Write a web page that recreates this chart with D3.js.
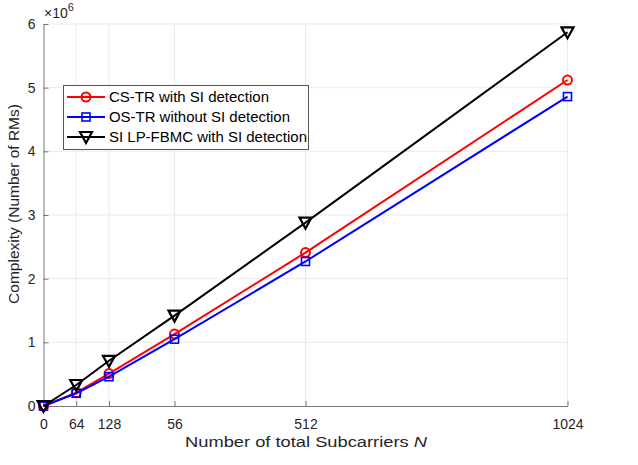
<!DOCTYPE html>
<html><head><meta charset="utf-8">
<script src="https://cdn.jsdelivr.net/npm/d3@7"></script>
<style>body{margin:0;background:#fff}text{font-family:"Liberation Sans",Arial,sans-serif}</style>
</head><body><svg id="c" width="638" height="465"></svg>
<script>
const xValues = [0, 64, 128, 256, 512, 1024];
const xTickLabels = ["0", "64", "128", "56", "512", "1024"];
const yTicks = [0, 1, 2, 3, 4, 5, 6];
const csTR = [0, 0.21, 0.51, 1.13, 2.41, 5.12];
const osTR = [0, 0.20, 0.46, 1.05, 2.27, 4.86];
const siLP = [0, 0.33, 0.71, 1.42, 2.88, 5.87];
const seriesNames = ["CS-TR with SI detection", "OS-TR without SI detection", "SI LP-FBMC with SI detection"];
const seriesColors = ["#ff0000", "#0000ff", "#000000"];
const seriesMarkers = ["circle", "square", "triangle"];
const seriesData = [csTR, osTR, siLP];
const legendTextLengths = [160, 181, 198];

const svg = d3.select("#c");
const x = d3.scaleLinear().domain([0, 1024]).range([43.5, 567.5]);
const y = d3.scaleLinear().domain([0, 6]).range([406, 24]);

// grid
svg.append("g").selectAll("line").data(xValues.slice(1)).join("line")
  .attr("x1", d => x(d)).attr("x2", d => x(d)).attr("y1", y(0)).attr("y2", y(6))
  .attr("stroke", "#ebebeb").attr("stroke-width", 1);
svg.append("g").selectAll("line").data(yTicks.slice(1)).join("line")
  .attr("x1", x(0)).attr("x2", x(1024)).attr("y1", d => y(d)).attr("y2", d => y(d))
  .attr("stroke", "#ebebeb").attr("stroke-width", 1);

// axes
const xAxis = d3.axisBottom(x).tickValues(xValues).tickFormat((d, i) => xTickLabels[i]).tickSizeInner(-5).tickSizeOuter(0).tickPadding(13);
const gx = svg.append("g").attr("transform", `translate(0,${y(0)})`).call(xAxis);
const yAxis = d3.axisLeft(y).tickValues(yTicks).tickFormat(d3.format("d")).tickSizeInner(-5).tickSizeOuter(0).tickPadding(8);
const gy = svg.append("g").attr("transform", `translate(${x(0)},0)`).call(yAxis);
[gx, gy].forEach(g => {
  g.select(".domain").attr("stroke", "#777").attr("stroke-width", 1);
  g.selectAll(".tick line").attr("stroke", "#777");
  g.selectAll(".tick text").attr("fill", "#262626").attr("font-size", 14).attr("font-family", "Liberation Sans, Arial, sans-serif");
});

// exponent
const ex = svg.append("text").attr("x", 44).attr("y", 18).attr("fill", "#262626").attr("font-size", 14);
ex.append("tspan").text("\u00d710");
ex.append("tspan").attr("dy", -7).attr("font-size", 11).text("6");

// labels
svg.append("text").attr("x", 185).attr("y", 447).attr("font-size", 15.5).attr("fill", "#262626")
  .attr("textLength", 242).attr("lengthAdjust", "spacingAndGlyphs")
  .call(t => { t.append("tspan").text("Number of total Subcarriers "); t.append("tspan").attr("font-style", "italic").text("N"); });
svg.append("text").attr("transform", `translate(19,204) rotate(-90)`).attr("text-anchor", "middle").attr("font-size", 15.5).attr("fill", "#262626")
  .text("Complexity (Number of RMs)");

function drawMarker(g, type, cx, cy, color) {
  if (type === "circle") g.append("circle").attr("cx", cx).attr("cy", cy).attr("r", 4.5).attr("fill", "none").attr("stroke", color).attr("stroke-width", 2);
  else if (type === "square") g.append("rect").attr("x", cx - 4).attr("y", cy - 4).attr("width", 8).attr("height", 8).attr("fill", "none").attr("stroke", color).attr("stroke-width", 1.6);
  else g.append("path").attr("d", `M${cx - 6},${cy - 5}L${cx + 6},${cy - 5}L${cx},${cy + 6}Z`).attr("fill", "none").attr("stroke", color).attr("stroke-width", 2.2);
}

const line = d3.line().x((d, i) => x(xValues[i])).y(d => y(d));
seriesData.forEach((s, k) => {
  const g = svg.append("g");
  g.append("path").datum(s).attr("d", line).attr("fill", "none").attr("stroke", seriesColors[k]).attr("stroke-width", 2);
  s.forEach((v, i) => drawMarker(g, seriesMarkers[k], x(xValues[i]), y(v), seriesColors[k]));
});

// legend
const lg = svg.append("g");
lg.append("rect").attr("x", 63.5).attr("y", 85.5).attr("width", 245).attr("height", 64).attr("fill", "#fff").attr("stroke", "#555").attr("stroke-width", 1);
seriesNames.forEach((n, k) => {
  const cy = 97 + k * 20;
  lg.append("line").attr("x1", 67).attr("x2", 105).attr("y1", cy).attr("y2", cy).attr("stroke", seriesColors[k]).attr("stroke-width", 2);
  drawMarker(lg, seriesMarkers[k], 86, cy, seriesColors[k]);
  lg.append("text").attr("x", 109).attr("y", cy + 5).attr("font-size", 14).attr("fill", "#000")
    .attr("textLength", legendTextLengths[k]).attr("lengthAdjust", "spacingAndGlyphs").text(n);
});
</script></body></html>
